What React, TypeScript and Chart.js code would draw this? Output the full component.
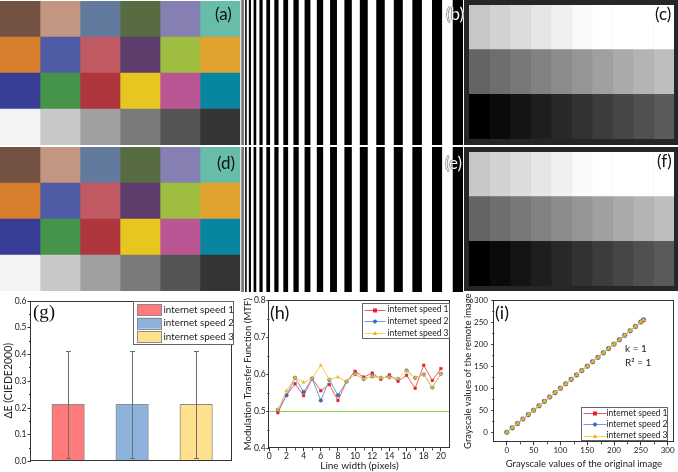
import React, { useEffect, useRef } from "react";
import { Chart, registerables } from "chart.js";

Chart.register(...registerables);

const SANS = "Lato, 'Noto Sans', sans-serif";
const SERIF = "'Liberation Serif', 'DejaVu Serif', serif";

// ---------- (a)/(d) colour checker ----------
const checkerRow1 = ["#735244", "#c29682", "#627a9d", "#576c43", "#8580b1", "#67bdaa"];
const checkerRow2 = ["#d67e2c", "#505ba6", "#c15a63", "#5e3c6c", "#9dbc40", "#e0a32e"];
const checkerRow3 = ["#383d96", "#469449", "#af363c", "#e7c71f", "#bb5695", "#0885a1"];
const checkerRow4 = ["#f3f3f2", "#c8c8c8", "#a0a0a0", "#7a7a79", "#555555", "#343434"];
const checkerRows = [checkerRow1, checkerRow2, checkerRow3, checkerRow4];

// ---------- (b)/(e) line pairs, width in pixels ----------
const lineWidths = [1, 2, 3, 4, 5, 6, 7, 8, 9, 10, 11, 12, 13, 14, 15, 16, 17, 18, 19, 20];

// ---------- (c)/(f) grey steps ----------
const greyRow1 = [200, 210, 220, 230, 240, 250, 255, 255, 255, 255];
const greyRow2 = [100, 110, 120, 130, 140, 150, 160, 170, 180, 190];
const greyRow3 = [0, 10, 20, 30, 40, 50, 60, 70, 80, 90];
const greyRows = [greyRow1, greyRow2, greyRow3];

// ---------- (g) colour difference ----------
const speedLabels = ["internet speed 1", "internet speed 2", "internet speed 3"];
const speedPositions = [1, 2, 3];
const deltaE = [0.212, 0.212, 0.212];
const deltaEError = [0.2, 0.2, 0.2];
const deltaETicks = [0, 0.1, 0.2, 0.3, 0.4, 0.5, 0.6];
const deltaEMinor = [0.05, 0.15, 0.25, 0.35, 0.45, 0.55];

// ---------- (h) MTF ----------
const mtfSpeed1 = [0.496, 0.543, 0.574, 0.542, 0.588, 0.555, 0.572, 0.529, 0.58, 0.608, 0.592, 0.603, 0.586, 0.598, 0.581, 0.597, 0.562, 0.624, 0.583, 0.615];
const mtfSpeed2 = [0.504, 0.543, 0.59, 0.552, 0.588, 0.529, 0.585, 0.543, 0.58, 0.6, 0.587, 0.594, 0.59, 0.592, 0.587, 0.61, 0.59, 0.599, 0.564, 0.601];
const mtfSpeed3 = [0.504, 0.555, 0.59, 0.578, 0.588, 0.624, 0.585, 0.592, 0.58, 0.6, 0.587, 0.594, 0.59, 0.592, 0.587, 0.61, 0.59, 0.599, 0.564, 0.601];
const mtfThreshold = 0.5;
const mtfXTicks = [0, 2, 4, 6, 8, 10, 12, 14, 16, 18, 20];
const mtfXMinor = [1, 3, 5, 7, 9, 11, 13, 15, 17, 19];
const mtfYTicks = [0.4, 0.5, 0.6, 0.7, 0.8];
const mtfYMinor = [0.45, 0.55, 0.65, 0.75];

// ---------- (i) grey transfer ----------
const greyOriginal = [0, 10, 20, 30, 40, 50, 60, 70, 80, 90, 100, 110, 120, 130, 140, 150, 160, 170, 180, 190, 200, 210, 220, 230, 240, 250, 255];
const greyRemote1 = [0, 10, 20, 30, 40, 50, 60, 70, 80, 90, 100, 110, 120, 130, 140, 150, 160, 170, 180, 190, 200, 210, 220, 230, 240, 250, 255];
const greyRemote2 = [0, 10, 20, 30, 40, 50, 60, 70, 80, 90, 100, 110, 120, 130, 140, 150, 160, 170, 180, 190, 200, 210, 220, 230, 240, 250, 255];
const greyRemote3 = [0, 10, 20, 30, 40, 50, 60, 70, 80, 90, 100, 110, 120, 130, 140, 150, 160, 170, 180, 190, 200, 210, 220, 230, 240, 250, 255];
const greyTicks = [0, 50, 100, 150, 200, 250, 300];
const greyMinor = [25, 75, 125, 175, 225, 275];

// ---------- styles / layout ----------
const barFill = ["#ff7b7b", "#8db3dc", "#ffe08c"];
const lineColor = ["#f25c5c", "#6d9ed8", "#ffcd4f"];
const markColor = ["#e5202a", "#3a6aae", "#f0b41c"];
const markStyle = ["rect", "circle", "triangle"];
const INK = "#222";
const AXIS = "#333";

// panel (g) box geometry
const G_TOP = 290;
const G_H = 182;
const G_PAD_TOP = 10.5;
const G_XAXIS_H = 11;
const G_YAXIS_W = 31;
const G_MIN = 0;
const G_MAX = 0.6;

const base = (extra: any = {}) => ({
  animation: false,
  responsive: false,
  devicePixelRatio: 1,
  events: [],
  plugins: { legend: { display: false }, tooltip: { enabled: false } },
  ...extra,
});

// ---------- block charts (top images) ----------
function checkerConfig() {
  return {
    type: "bar",
    data: {
      labels: checkerRows.map((_, i) => "row " + (i + 1)),
      datasets: checkerRow1.map((_, j) => ({
        data: checkerRows.map(() => 1),
        backgroundColor: checkerRows.map((r) => r[j]),
        borderWidth: 0,
        barPercentage: 1,
        categoryPercentage: 1,
      })),
    },
    options: base({
      indexAxis: "y",
      layout: { padding: 0 },
      scales: {
        x: { type: "linear", stacked: true, display: false, min: 0, max: checkerRow1.length },
        y: { stacked: true, display: false },
      },
    }),
  };
}

function stripeConfig() {
  const total = lineWidths.reduce((a, w) => a + 2 * w, 0);
  return {
    type: "bar",
    data: {
      labels: ["pattern"],
      datasets: lineWidths.flatMap((w) => [
        { data: [w], backgroundColor: "#ffffff", borderWidth: 0, barPercentage: 1, categoryPercentage: 1 },
        { data: [w], backgroundColor: "#000000", borderWidth: 0, barPercentage: 1, categoryPercentage: 1 },
      ]),
    },
    options: base({
      indexAxis: "y",
      layout: { padding: 0 },
      scales: {
        x: { type: "linear", stacked: true, display: false, min: 0, max: total },
        y: { stacked: true, display: false },
      },
    }),
  };
}

function greyConfig(pad: any) {
  return () => ({
    type: "bar",
    data: {
      labels: greyRows.map((_, i) => "row " + (i + 1)),
      datasets: greyRow1.map((_, j) => ({
        data: greyRows.map(() => 1),
        backgroundColor: greyRows.map((r) => `rgb(${r[j]},${r[j]},${r[j]})`),
        borderWidth: 0,
        barPercentage: 1,
        categoryPercentage: 1,
      })),
    },
    options: base({
      indexAxis: "y",
      layout: { padding: pad },
      scales: {
        x: { type: "linear", stacked: true, display: false, min: 0, max: greyRow1.length },
        y: { stacked: true, display: false },
      },
    }),
  });
}

// ---------- helpers for the plots ----------
function axis(o: any) {
  return {
    type: "linear",
    display: true,
    min: o.min,
    max: o.max,
    offset: false,
    afterBuildTicks: (s: any) => {
      s.ticks = o.ticks.map((v: number) => ({ value: v }));
    },
    afterFit: (s: any) => {
      if (s.isHorizontal()) s.height = o.size;
      else s.width = o.size;
      s.paddingLeft = 0;
      s.paddingRight = 0;
      s.paddingTop = 0;
      s.paddingBottom = 0;
    },
    ticks: {
      display: o.showTicks !== false,
      font: { family: SANS, size: o.fontSize },
      color: INK,
      padding: o.tickPad,
      maxRotation: 0,
      minRotation: 0,
      autoSkip: false,
      callback: (v: any) => o.fmt(Number(v)),
    },
    grid: { display: o.showTicks !== false, drawOnChartArea: false, drawTicks: true, tickLength: 3, color: AXIS, lineWidth: 1 },
    border: { display: false },
    title: o.title
      ? { display: true, text: o.title, color: INK, font: { family: SANS, size: o.titleSize }, padding: o.titlePad }
      : { display: false },
  };
}

const framePlugin = {
  id: "frame",
  afterDraw(chart: any) {
    const { ctx, chartArea: ca } = chart;
    const l = Math.round(ca.left) - 0.5;
    const t = Math.round(ca.top) + 0.5;
    const r = Math.round(ca.right) - 0.5;
    const b = Math.round(ca.bottom) - 0.5;
    ctx.save();
    ctx.strokeStyle = AXIS;
    ctx.lineWidth = 1;
    ctx.strokeRect(l, t, r - l, b - t);
    ctx.restore();
  },
};

function minorTicks(xs: number[], ys: number[]) {
  return {
    id: "minorTicks",
    afterDraw(chart: any) {
      const { ctx, chartArea: ca, scales } = chart;
      ctx.save();
      ctx.strokeStyle = AXIS;
      ctx.lineWidth = 1;
      ctx.beginPath();
      xs.forEach((v) => {
        const px = Math.round(scales.x.getPixelForValue(v)) + 0.5;
        ctx.moveTo(px, ca.bottom);
        ctx.lineTo(px, ca.bottom + 2);
      });
      ys.forEach((v) => {
        const py = Math.round(scales.y.getPixelForValue(v)) + 0.5;
        ctx.moveTo(ca.left, py);
        ctx.lineTo(ca.left - 2, py);
      });
      ctx.stroke();
      ctx.restore();
    },
  };
}

function drawMarker(ctx: any, style: string, x: number, y: number, r: number, color: string) {
  ctx.fillStyle = color;
  ctx.beginPath();
  if (style === "rect") ctx.rect(x - r, y - r, 2 * r, 2 * r);
  else if (style === "circle") ctx.arc(x, y, r, 0, Math.PI * 2);
  else {
    ctx.moveTo(x, y - r * 1.2);
    ctx.lineTo(x + r * 1.1, y + r * 0.8);
    ctx.lineTo(x - r * 1.1, y + r * 0.8);
    ctx.closePath();
  }
  ctx.fill();
}

function legendPlugin(spec: any) {
  return {
    id: "boxLegend",
    afterDraw(chart: any) {
      const { ctx, chartArea: ca } = chart;
      const x0 = Math.round(ca.right - spec.dx - spec.w) + 0.5;
      const y0 = Math.round(spec.corner === "top" ? ca.top + spec.dy : ca.bottom - spec.dy - spec.h) + 0.5;
      ctx.save();
      ctx.fillStyle = "#fff";
      ctx.fillRect(x0, y0, spec.w, spec.h);
      ctx.strokeStyle = "#666";
      ctx.lineWidth = 1;
      ctx.strokeRect(x0, y0, spec.w, spec.h);
      ctx.font = `${spec.fontSize}px ${SANS}`;
      ctx.textBaseline = "middle";
      ctx.textAlign = "left";
      speedLabels.forEach((label, k) => {
        const cy = y0 + spec.firstRow + k * spec.rowGap;
        if (spec.kind === "box") {
          ctx.fillStyle = barFill[k];
          ctx.fillRect(x0 + spec.sampleLeft, cy - 5.5, spec.sampleW, 11);
          ctx.strokeStyle = "#8c8c8c";
          ctx.strokeRect(Math.round(x0 + spec.sampleLeft) + 0.5, Math.round(cy - 5.5) + 0.5, spec.sampleW, 11);
        } else {
          ctx.strokeStyle = lineColor[k];
          ctx.beginPath();
          ctx.moveTo(x0 + spec.sampleLeft, Math.round(cy) + 0.5);
          ctx.lineTo(x0 + spec.sampleLeft + spec.sampleW, Math.round(cy) + 0.5);
          ctx.stroke();
          drawMarker(ctx, markStyle[k], x0 + spec.sampleLeft + spec.sampleW / 2, Math.round(cy) + 0.5, 2, markColor[k]);
        }
        ctx.fillStyle = INK;
        ctx.fillText(label, x0 + spec.textLeft, cy);
      });
      ctx.restore();
    },
  };
}

// ---------- (g) ----------
function deltaEConfig() {
  const extras = {
    id: "deltaEExtras",
    afterDraw(chart: any) {
      const { ctx, chartArea: ca } = chart;
      const meta = chart.getDatasetMeta(0);
      const y = chart.scales.y;
      ctx.save();
      ctx.strokeStyle = "#6e6e6e";
      ctx.lineWidth = 1;
      ctx.beginPath();
      meta.data.forEach((bar: any, i: number) => {
        const x = Math.round(bar.x) + 0.5;
        const top = Math.round(y.getPixelForValue(deltaE[i] + deltaEError[i])) + 0.5;
        const bot = Math.round(y.getPixelForValue(deltaE[i] - deltaEError[i])) + 0.5;
        ctx.moveTo(x, top);
        ctx.lineTo(x, bot);
        ctx.moveTo(x - 2.5, top);
        ctx.lineTo(x + 2.5, top);
        ctx.moveTo(x - 2.5, bot);
        ctx.lineTo(x + 2.5, bot);
      });
      ctx.stroke();
      const left = Math.round(ca.left);
      ctx.strokeStyle = AXIS;
      ctx.beginPath();
      deltaETicks.forEach((v) => {
        const py = Math.round(y.getPixelForValue(v)) + 0.5;
        ctx.moveTo(left, py);
        ctx.lineTo(left - 3.5, py);
      });
      deltaEMinor.forEach((v) => {
        const py = Math.round(y.getPixelForValue(v)) + 0.5;
        ctx.moveTo(left, py);
        ctx.lineTo(left - 2, py);
      });
      ctx.stroke();
      ctx.restore();
    },
  };
  return {
    type: "line",
    data: {
      datasets: [
        {
          type: "bar",
          label: "ΔE",
          data: speedPositions.map((x, i) => ({ x, y: deltaE[i] })),
          backgroundColor: barFill,
          borderColor: "#8c8c8c",
          borderWidth: 1,
          barThickness: 32.5,
        },
      ],
    },
    options: base({
      layout: { padding: { top: G_PAD_TOP, right: 8, bottom: 0, left: 0 } },
      scales: {
        x: {
          type: "linear",
          min: 0.42,
          max: 3.56,
          offset: false,
          ticks: { display: false },
          grid: { display: false },
          border: { display: false },
          afterFit: (s: any) => {
            s.height = G_XAXIS_H;
            s.paddingLeft = 0;
            s.paddingRight = 0;
          },
        },
        y: axis({
          min: G_MIN, max: G_MAX, ticks: deltaETicks, size: G_YAXIS_W, fontSize: 8.5, tickPad: 1, showTicks: false,
          fmt: (v: number) => v.toFixed(1),
          title: "ΔE (CIEDE2000)", titleSize: 10.5, titlePad: { top: 2.2, bottom: 0 },
        }),
      },
    }),
    plugins: [
      framePlugin,
      legendPlugin({ corner: "top", dx: -1, dy: 0, w: 100, h: 43, firstRow: 8, rowGap: 13.7, sampleLeft: 3.5, sampleW: 24, textLeft: 30, fontSize: 9.8, kind: "box" }),
      extras,
    ],
  };
}

// same linear mapping as the (g) value axis: [G_MIN, G_MAX] -> chart area height
function deltaETickTop(v: number) {
  const areaTop = G_TOP + G_PAD_TOP;
  const areaBottom = G_TOP + G_H - G_XAXIS_H;
  return areaBottom - ((v - G_MIN) / (G_MAX - G_MIN)) * (areaBottom - areaTop);
}

// ---------- (h) ----------
function mtfConfig() {
  const series = [mtfSpeed1, mtfSpeed2, mtfSpeed3];
  const thresholdLine = {
    id: "threshold",
    beforeDatasetsDraw(chart: any) {
      const { ctx, chartArea: ca, scales } = chart;
      const py = Math.round(scales.y.getPixelForValue(mtfThreshold)) + 0.5;
      ctx.save();
      ctx.strokeStyle = "#92d050";
      ctx.lineWidth = 1;
      ctx.beginPath();
      ctx.moveTo(ca.left, py);
      ctx.lineTo(ca.right, py);
      ctx.stroke();
      ctx.restore();
    },
  };
  return {
    type: "line",
    data: {
      datasets: series.map((s, k) => ({
        label: speedLabels[k],
        data: s.map((v, i) => ({ x: lineWidths[i], y: v })),
        borderColor: lineColor[k],
        borderWidth: 1,
        pointStyle: markStyle[k],
        pointRadius: 1.8,
        pointBackgroundColor: markColor[k],
        pointBorderColor: markColor[k],
        pointBorderWidth: 0.5,
        tension: 0,
        order: 3 - k,
      })),
    },
    options: base({
      layout: { padding: { top: 10, right: 1.3, bottom: 0, left: 0 } },
      scales: {
        x: axis({
          min: 0, max: 21, ticks: mtfXTicks, size: 23.7, fontSize: 8.5, tickPad: 0,
          fmt: (v: number) => String(v),
          title: "Line width (pixels)", titleSize: 10, titlePad: { top: 0, bottom: 0 },
        }),
        y: axis({
          min: 0.4, max: 0.8, ticks: mtfYTicks, size: 37.3, fontSize: 8.5, tickPad: 0.5,
          fmt: (v: number) => v.toFixed(1),
          title: "Modulation Transfer Function (MTF)", titleSize: 9.6, titlePad: { top: 9.7, bottom: 0 },
        }),
      },
    }),
    plugins: [
      thresholdLine,
      minorTicks(mtfXMinor, mtfYMinor),
      framePlugin,
      legendPlugin({ corner: "top", dx: 0.7, dy: 3, w: 87, h: 35, firstRow: 6, rowGap: 11.7, sampleLeft: 2, sampleW: 21, textLeft: 25, fontSize: 8.5, kind: "line" }),
    ],
  };
}

// ---------- (i) ----------
function greyTransferConfig() {
  const series = [greyRemote1, greyRemote2, greyRemote3];
  return {
    type: "line",
    data: {
      datasets: series.map((s, k) => ({
        label: speedLabels[k],
        data: s.map((v, i) => ({ x: greyOriginal[i], y: v })),
        borderColor: lineColor[k],
        borderWidth: 1,
        pointStyle: markStyle[k],
        pointRadius: 2.3,
        pointBackgroundColor: markColor[k],
        pointBorderColor: markColor[k],
        pointBorderWidth: 0.5,
        tension: 0,
        order: 3 - k,
      })),
    },
    options: base({
      layout: { padding: { top: 10, right: 2, bottom: 0, left: 0 } },
      scales: {
        x: axis({
          min: -23.4, max: 311, ticks: greyTicks, size: 29.7, fontSize: 8, tickPad: 0,
          fmt: (v: number) => String(v),
          title: "Grayscale values of the original image", titleSize: 9.5, titlePad: { top: 0, bottom: 2.7 },
        }),
        y: axis({
          min: -22.7, max: 300, ticks: greyTicks, size: 40.3, fontSize: 8, tickPad: 3.3,
          fmt: (v: number) => String(v),
          title: "Grayscale values of the remote image", titleSize: 9.5, titlePad: { top: 8.7, bottom: 0 },
        }),
      },
    }),
    plugins: [
      minorTicks(greyMinor, greyMinor),
      framePlugin,
      legendPlugin({ corner: "bottom", dx: 7, dy: 2.3, w: 86, h: 33, firstRow: 5.3, rowGap: 11.4, sampleLeft: 2, sampleW: 23, textLeft: 25, fontSize: 8.5, kind: "line" }),
    ],
  };
}

// ---------- components ----------
function ChartBox({ left, top, width, height, make, bg }: any) {
  const ref = useRef<HTMLCanvasElement>(null);
  useEffect(() => {
    const chart = new Chart(ref.current as HTMLCanvasElement, make());
    return () => chart.destroy();
  }, []);
  const style: any = { position: "absolute", left, top, width, height };
  if (bg) style.background = bg;
  return (
    <div style={style}>
      <canvas ref={ref} width={width} height={height} style={{ display: "block", width, height }} />
    </div>
  );
}

function Label({ x, y, text, size = 17, family = SANS, light = false }: any) {
  return (
    <div
      style={{
        position: "absolute",
        left: x,
        top: y,
        fontFamily: family,
        fontSize: size,
        lineHeight: `${size}px`,
        whiteSpace: "nowrap",
        color: light ? "#f4f4f4" : "#111",
        textShadow: light ? "0 0 1px #000, 0 0 1px #000" : "none",
      }}
    >
      {text}
    </div>
  );
}

export default function App() {
  return (
    <div style={{ position: "absolute", left: 0, top: 0, width: 678, height: 472, background: "#fff", overflow: "hidden" }}>
      <ChartBox left={0} top={1} width={240} height={144} make={checkerConfig} />
      <ChartBox left={0} top={147} width={240} height={144} make={checkerConfig} />
      <ChartBox left={240} top={0} width={223} height={145} make={stripeConfig} />
      <ChartBox left={240} top={147} width={223} height={145} make={stripeConfig} />
      <ChartBox left={464} top={0} width={214} height={145} bg="#262626" make={greyConfig({ left: 5, right: 4, top: 5, bottom: 6 })} />
      <ChartBox left={464} top={147} width={214} height={144} bg="#262626" make={greyConfig({ left: 5, right: 4, top: 5, bottom: 5 })} />

      <ChartBox left={0} top={G_TOP} width={240} height={G_H} make={deltaEConfig} />
      <ChartBox left={232} top={290} width={222} height={182} make={mtfConfig} />
      <ChartBox left={454} top={290} width={224} height={182} make={greyTransferConfig} />

      <Label x={215} y={5} text="(a)" />
      <Label x={446} y={5} text="(b)" light />
      <Label x={655} y={5} text="(c)" />
      <Label x={217} y={154} text="(d)" />
      <Label x={445} y={154} text="(e)" light />
      <Label x={657} y={152} text="(f)" />
      <Label x={33} y={302} text="(g)" size={19} family={SERIF} />
      <Label x={270} y={303} text="(h)" size={18} />
      <Label x={495} y={303} text="(i)" size={18} />
      <div style={{ position: "absolute", left: 625, top: 342, fontFamily: SANS, fontSize: 10, lineHeight: "12px", color: INK, whiteSpace: "nowrap" }}>k = 1</div>
      <div style={{ position: "absolute", left: 625, top: 356, fontFamily: SANS, fontSize: 10, lineHeight: "12px", color: INK, whiteSpace: "nowrap" }}>R² = 1</div>
      {deltaETicks.map((v) => (
        <div
          key={"gt" + v}
          style={{
            position: "absolute",
            zIndex: 5,
            left: 12,
            width: G_YAXIS_W - 4.5 - 12,
            top: deltaETickTop(v) - 5,
            height: 10,
            textAlign: "right",
            fontFamily: SANS,
            fontSize: 8.5,
            lineHeight: "10px",
            color: INK,
            whiteSpace: "nowrap",
          }}
        >
          {v.toFixed(1)}
        </div>
      ))}
    </div>
  );
}
